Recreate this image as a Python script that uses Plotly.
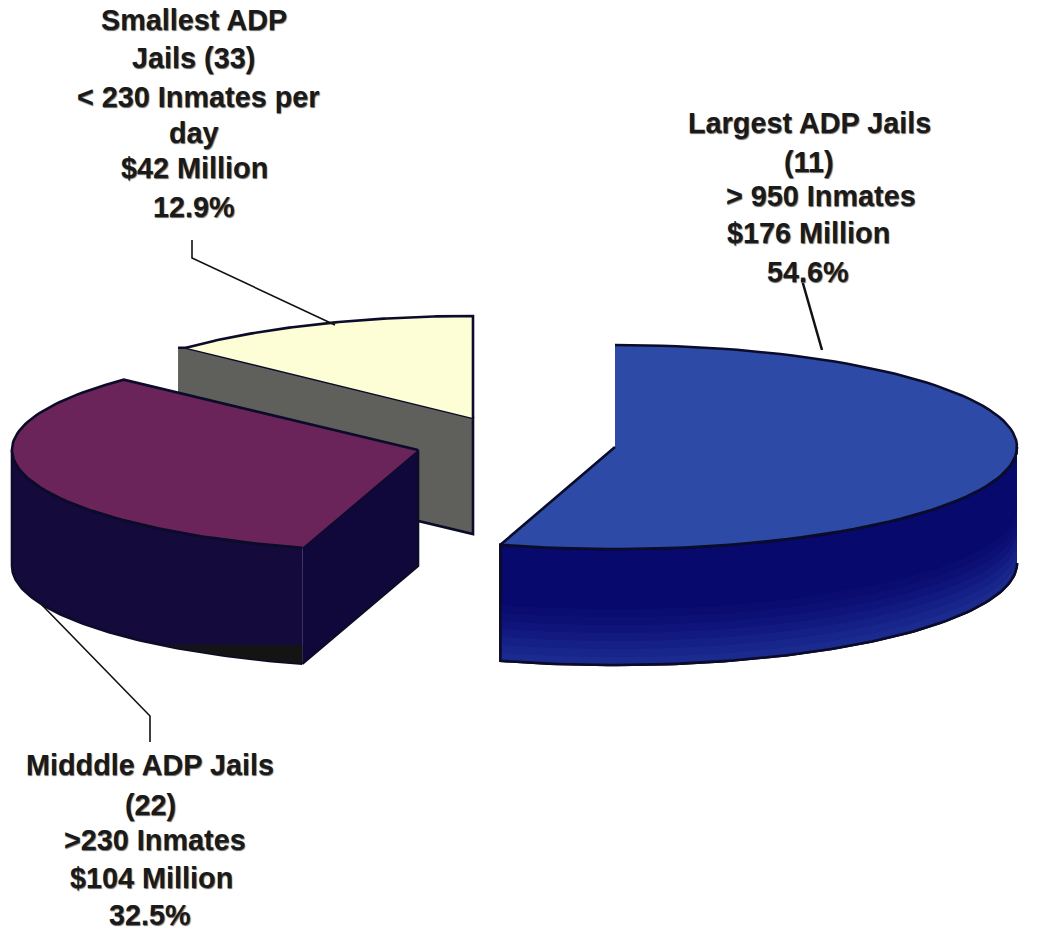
import numpy as np
import plotly.graph_objects as go

# Data
categories = ["Largest ADP Jails", "Midddle ADP Jails", "Smallest ADP Jails"]
shares = [54.6, 32.5, 12.9]
label_lines = [
    ["Largest ADP Jails", "(11)", "> 950 Inmates", "$176 Million", "54.6%"],
    ["Midddle ADP Jails", "(22)", ">230 Inmates", "$104 Million", "32.5%"],
    ["Smallest ADP", "Jails (33)", "< 230 Inmates per", "day", "$42 Million", "12.9%"],
]

# Layout (pixels on a 1047x930 canvas)
label_x = [[809, 809, 821, 808, 808], [150, 150, 155, 151, 150], [194, 193, 198, 194, 194, 194]]
label_y = [[123, 162, 196, 233, 272], [765, 805, 840, 878, 915], [20, 58, 97, 133, 168, 207]]
apex = [(615, 447), (418, 450), (473, 418)]
semi_a = [402, 406, 396]
semi_b = 102
depth = 116
top_colors = ["#2D4AA6", "#6A2459", "#FDFDD6"]
OUT = "#0B0B2A"
side_bands = ["#1B2A8E", "#18258A", "#152086", "#121A80", "#0F147A", "#0C1074", "#0A0C70", "#08096C"]

fig = go.Figure()


def poly(xs, ys, fill, line=OUT, w=2.6):
    fig.add_trace(go.Scatter(x=list(xs), y=list(ys), mode="lines", fill="toself", fillcolor=fill,
                             line=dict(color=line if line else fill, width=w if line else 0),
                             hoverinfo="skip", showlegend=False))


def arc(i, t0, t1, n=90):
    t = np.radians(np.linspace(t0, t1, n))
    cx, cy = apex[i]
    return cx + semi_a[i] * np.sin(t), cy - semi_b * np.cos(t)


ang = np.cumsum([0] + [s * 3.6 for s in shares])
angles = [(ang[k], ang[k + 1]) for k in range(len(shares))]

# --- Smallest slice (drawn first, sits behind) ---
t0, t1 = angles[2]
ax, ay = arc(2, t0, t1)
cx, cy = apex[2]
poly([ax[0] - 8, ax[0], cx, cx, ax[0] - 8], [ay[0], ay[0], cy, cy + depth, ay[0] + depth], "#5F5F5B")
poly(np.r_[ax, cx], np.r_[ay, cy], top_colors[2])

# --- Middle slice ---
t0, t1 = angles[1]
ax, ay = arc(1, t0, t1)
cx, cy = apex[1]
ox, oy = arc(1, t0, 270)
poly([ox[0], cx, cx, ox[0]], [oy[0], cy, cy + depth, oy[0] + depth], "#10083A")
poly(np.r_[ox, ox[::-1]], np.r_[oy, oy[::-1] + depth], "#140A3C")
mask = oy + depth >= 645
if mask.any():
    poly(np.r_[ox[mask], ox[mask][::-1]], np.r_[oy[mask] + depth, np.full(mask.sum(), 645.0)], "#141414", line=None)
poly(np.r_[ax, cx], np.r_[ay, cy], top_colors[1])

# --- Largest slice ---
t0, t1 = angles[0]
ax, ay = arc(0, t0, t1)
cx, cy = apex[0]
ox, oy = arc(0, 90, t1)
poly(np.r_[ox, ox[::-1]], np.r_[oy, oy[::-1] + depth], "#08096C")
band_h = 0.55 * depth / len(side_bands)
for k, c in enumerate(side_bands):
    poly(np.r_[ox, ox[::-1]], np.r_[oy + depth - k * band_h, oy[::-1] + depth - (k + 1) * band_h - 0.6], c, line=None)
poly(np.r_[ox, ox[::-1]], np.r_[oy, oy[::-1] + depth], "rgba(0,0,0,0)")
poly(np.r_[ax, cx], np.r_[ay, cy], top_colors[0])

# --- Leader lines ---
leaders = [
    ([802, 822], [280, 350], 2.5),
    ([150, 150, 42], [742, 716, 605], 1.6),
    ([192, 192, 335], [240, 258, 325], 1.6),
]
for lx, ly, w in leaders:
    fig.add_trace(go.Scatter(x=lx, y=ly, mode="lines", line=dict(color="#111", width=w),
                             hoverinfo="skip", showlegend=False))

# --- Labels ---
for lines, xs, ys in zip(label_lines, label_x, label_y):
    for s, x, y in zip(lines, xs, ys):
        fig.add_annotation(x=x, y=y, text=f"<b>{s}</b>", showarrow=False, xanchor="center", yanchor="middle",
                           font=dict(family="Liberation Sans", size=28.8, color="#1a1a1a",
                                     shadow="0.6px 0.6px 1px #666"))

fig.update_layout(width=1047, height=930, margin=dict(l=0, r=0, t=0, b=0),
                  paper_bgcolor="white", plot_bgcolor="white", showlegend=False,
                  xaxis=dict(range=[0, 1047], visible=False, fixedrange=True),
                  yaxis=dict(range=[930, 0], visible=False, fixedrange=True))
fig.write_html("out.html", config={"displayModeBar": False},
               post_script="document.body.style.margin='0';document.body.style.overflow='hidden';")
